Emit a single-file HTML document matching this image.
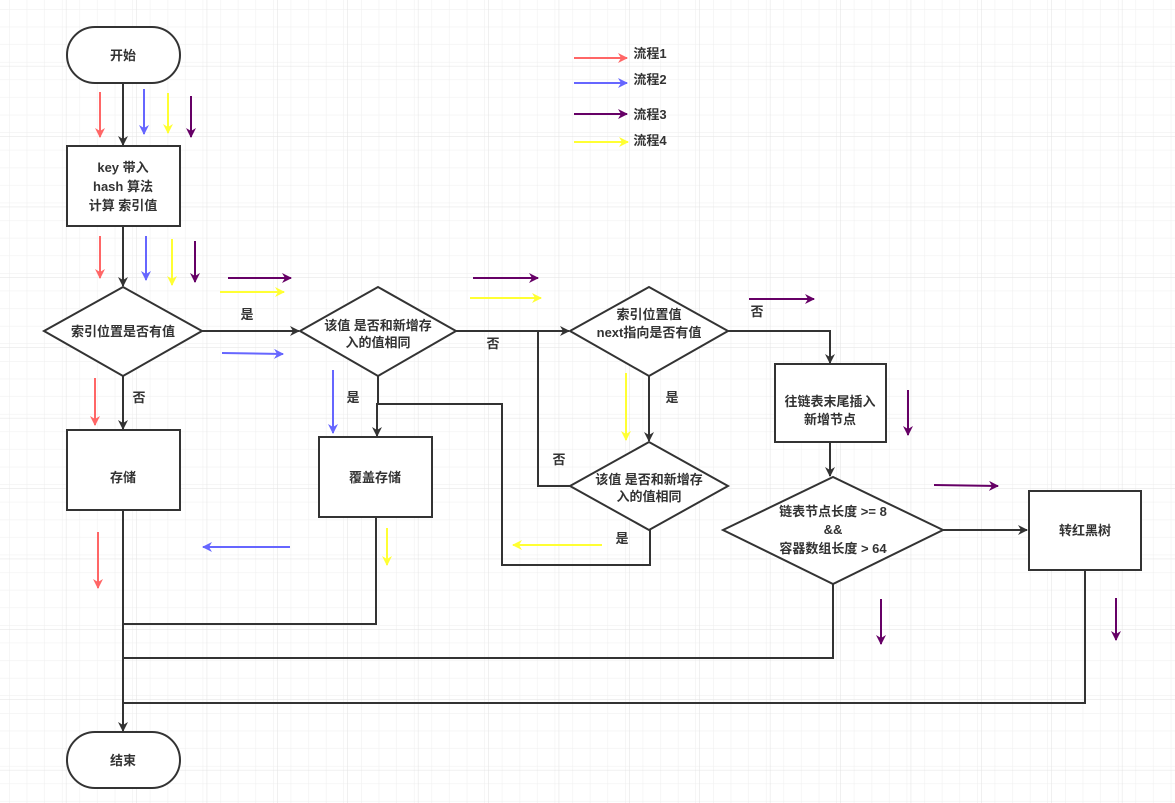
<!DOCTYPE html>
<html><head><meta charset="utf-8"><style>
html,body{margin:0;padding:0;background:#fff}
svg{display:block}
text{font-family:"Liberation Sans","Noto Sans CJK SC",sans-serif;font-size:13px;font-weight:bold;fill:#333;text-anchor:middle}
</style></head><body>
<svg width="1175" height="803" viewBox="0 0 1175 803" xmlns="http://www.w3.org/2000/svg">
<defs>
<pattern id="g" width="17.6" height="17.6" patternUnits="userSpaceOnUse" x="-4" y="-4">
<path d="M17.6 0V17.6H0" fill="none" stroke="#eeeeee" stroke-width="1"/>
</pattern>
<pattern id="G" width="70.4" height="70.4" patternUnits="userSpaceOnUse" x="-4" y="-4">
<rect width="70.4" height="70.4" fill="url(#g)"/>
<path d="M70.4 0V70.4H0" fill="none" stroke="#e2e2e2" stroke-width="1"/>
</pattern>
<marker id="ak" markerWidth="10" markerHeight="10" refX="9" refY="5" orient="auto" markerUnits="userSpaceOnUse"><path d="M0 0L10 5L0 10L3 5z" fill="#333"/></marker>
<marker id="ar" markerWidth="10" markerHeight="10" refX="9" refY="5" orient="auto" markerUnits="userSpaceOnUse"><path d="M0 0L10 5L0 10L3 5z" fill="#ff6666"/></marker>
<marker id="ab" markerWidth="10" markerHeight="10" refX="9" refY="5" orient="auto" markerUnits="userSpaceOnUse"><path d="M0 0L10 5L0 10L3 5z" fill="#6666ff"/></marker>
<marker id="ay" markerWidth="10" markerHeight="10" refX="9" refY="5" orient="auto" markerUnits="userSpaceOnUse"><path d="M0 0L10 5L0 10L3 5z" fill="#ffff33"/></marker>
<marker id="ap" markerWidth="10" markerHeight="10" refX="9" refY="5" orient="auto" markerUnits="userSpaceOnUse"><path d="M0 0L10 5L0 10L3 5z" fill="#660066"/></marker>
</defs>
<rect width="1175" height="803" fill="url(#G)"/>

<g fill="none" stroke="#333" stroke-width="2">
<line x1="123" y1="83" x2="123" y2="145" marker-end="url(#ak)"/>
<line x1="123" y1="226" x2="123" y2="286" marker-end="url(#ak)"/>
<line x1="202" y1="331" x2="299" y2="331" marker-end="url(#ak)"/>
<line x1="123" y1="376" x2="123" y2="429" marker-end="url(#ak)"/>
<line x1="456" y1="331" x2="569" y2="331" marker-end="url(#ak)"/>
<line x1="378" y1="376" x2="378" y2="404"/>
<polyline points="650,530 650,565 502,565 502,404 377,404 377,436" marker-end="url(#ak)"/>
<line x1="649" y1="376" x2="649" y2="441" marker-end="url(#ak)"/>
<polyline points="570,486 538,486 538,331"/>
<polyline points="728,331 830,331 830,363" marker-end="url(#ak)"/>
<line x1="830" y1="442" x2="830" y2="476" marker-end="url(#ak)"/>
<line x1="943" y1="530" x2="1027" y2="530" marker-end="url(#ak)"/>
<line x1="123" y1="510" x2="123" y2="731" marker-end="url(#ak)"/>
<polyline points="376,517 376,624 123,624"/>
<polyline points="833,584 833,658 123,658"/>
<polyline points="1085,570 1085,703 123,703"/>
</g>

<g fill="#fff" stroke="#333" stroke-width="2">
<rect x="67" y="27" width="113" height="56" rx="28"/>
<rect x="67" y="146" width="113" height="80"/>
<polygon points="44,331 123,287 202,331 123,376"/>
<rect x="67" y="430" width="113" height="80"/>
<polygon points="300,331 378,287 456,331 378,376"/>
<rect x="319" y="437" width="113" height="80"/>
<polygon points="570,331 649,287 728,331 649,376"/>
<polygon points="570,486 649,442 728,486 649,530"/>
<rect x="775" y="364" width="111" height="78"/>
<polygon points="723,530 833,477 943,530 833,584"/>
<rect x="1029" y="491" width="112" height="79"/>
<rect x="67" y="732" width="113" height="56" rx="28"/>
</g>

<g stroke-width="2" fill="none">
<g stroke="#ff6666">
<line x1="100" y1="92" x2="100" y2="137" marker-end="url(#ar)"/>
<line x1="100" y1="236" x2="100" y2="278" marker-end="url(#ar)"/>
<line x1="95" y1="378" x2="95" y2="425" marker-end="url(#ar)"/>
<line x1="98" y1="532" x2="98" y2="588" marker-end="url(#ar)"/>
<line x1="574" y1="58" x2="627" y2="58" marker-end="url(#ar)"/>
</g>
<g stroke="#6666ff">
<line x1="144" y1="89" x2="144" y2="134" marker-end="url(#ab)"/>
<line x1="146" y1="236" x2="146" y2="280" marker-end="url(#ab)"/>
<line x1="222" y1="353" x2="283" y2="354" marker-end="url(#ab)"/>
<line x1="333" y1="370" x2="333" y2="433" marker-end="url(#ab)"/>
<line x1="290" y1="547" x2="203" y2="547" marker-end="url(#ab)"/>
<line x1="574" y1="83" x2="627" y2="83" marker-end="url(#ab)"/>
</g>
<g stroke="#ffff33">
<line x1="168" y1="93" x2="168" y2="133" marker-end="url(#ay)"/>
<line x1="172" y1="239" x2="172" y2="285" marker-end="url(#ay)"/>
<line x1="220" y1="292" x2="284" y2="292" marker-end="url(#ay)"/>
<line x1="470" y1="298" x2="541" y2="298" marker-end="url(#ay)"/>
<line x1="626" y1="373" x2="626" y2="440" marker-end="url(#ay)"/>
<line x1="387" y1="528" x2="387" y2="565" marker-end="url(#ay)"/>
<line x1="602" y1="545" x2="513" y2="545" marker-end="url(#ay)"/>
<line x1="574" y1="142" x2="628" y2="142" marker-end="url(#ay)"/>
</g>
<g stroke="#660066">
<line x1="191" y1="96" x2="191" y2="137" marker-end="url(#ap)"/>
<line x1="195" y1="241" x2="195" y2="282" marker-end="url(#ap)"/>
<line x1="228" y1="278" x2="291" y2="278" marker-end="url(#ap)"/>
<line x1="473" y1="278" x2="538" y2="278" marker-end="url(#ap)"/>
<line x1="749" y1="299" x2="814" y2="299" marker-end="url(#ap)"/>
<line x1="908" y1="390" x2="908" y2="435" marker-end="url(#ap)"/>
<line x1="934" y1="485" x2="998" y2="486" marker-end="url(#ap)"/>
<line x1="881" y1="599" x2="881" y2="644" marker-end="url(#ap)"/>
<line x1="1116" y1="598" x2="1116" y2="640" marker-end="url(#ap)"/>
<line x1="574" y1="114" x2="627" y2="114" marker-end="url(#ap)"/>
</g>
</g>

<text x="123" y="60">开始</text>
<text x="123" y="172">key 带入</text>
<text x="123" y="191">hash 算法</text>
<text x="123" y="210">计算 索引值</text>
<text x="123" y="336">索引位置是否有值</text>
<text x="123" y="482">存储</text>
<text x="378" y="330">该值 是否和新增存</text>
<text x="378" y="347">入的值相同</text>
<text x="375" y="482">覆盖存储</text>
<text x="649" y="319">索引位置值</text>
<text x="649" y="337">next指向是否有值</text>
<text x="649" y="484">该值 是否和新增存</text>
<text x="649" y="501">入的值相同</text>
<text x="830" y="406">往链表末尾插入</text>
<text x="830" y="424">新增节点</text>
<text x="833" y="516">链表节点长度 &gt;= 8</text>
<text x="833" y="534">&amp;&amp;</text>
<text x="833" y="553">容器数组长度 &gt; 64</text>
<text x="1085" y="535">转红黑树</text>
<text x="123" y="765">结束</text>
<g style="font-weight:normal">
<text x="247" y="319">是</text>
<text x="139" y="402">否</text>
<text x="493" y="348">否</text>
<text x="353" y="402">是</text>
<text x="672" y="402">是</text>
<text x="559" y="464">否</text>
<text x="757" y="316">否</text>
<text x="622" y="543">是</text>
</g>
<g style="text-anchor:start">
<text x="650" y="58">流程1</text>
<text x="650" y="84">流程2</text>
<text x="650" y="119">流程3</text>
<text x="650" y="145">流程4</text>
</g>
</svg>
</body></html>
